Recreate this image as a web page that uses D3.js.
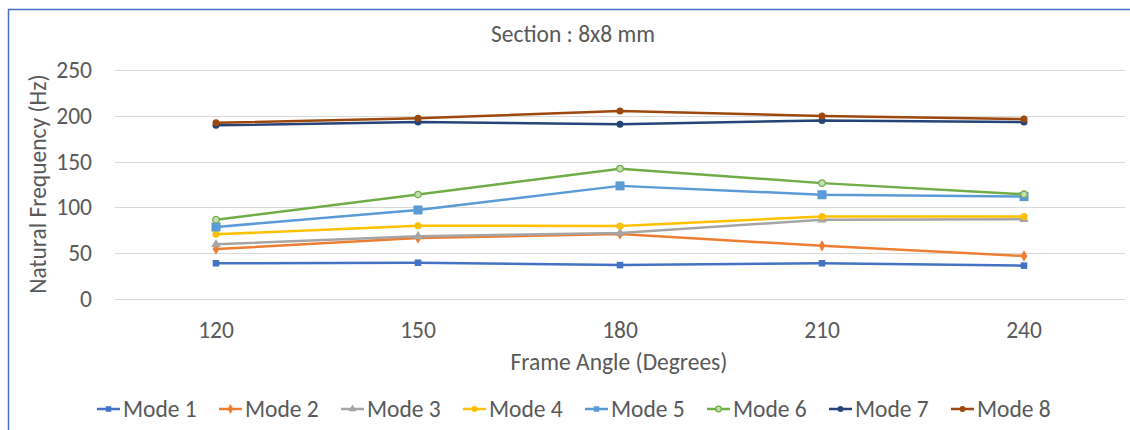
<!DOCTYPE html>
<html>
<head>
<meta charset="utf-8">
<script src="https://cdn.jsdelivr.net/npm/d3@7"></script>
<style>
  body { margin: 0; background: #fff; }
  svg { display: block; font-family: Carlito, Calibri, Lato, sans-serif; }
  .lbl { fill: #595959; }
</style>
</head>
<body>
<svg id="chart" width="1130" height="430"></svg>
<script>
// frame angle categories
const angles = ["120", "150", "180", "210", "240"];
const yTicks = [0, 50, 100, 150, 200, 250];

// natural frequency (Hz)
const mode1 = [39, 39.6, 37, 39, 36.4];
const mode2 = [54.5, 66.5, 71, 58, 47];
const mode3 = [59.7, 68.5, 72, 86.5, 87];
const mode4 = [70.6, 80, 79.8, 90, 90];
const mode5 = [78.6, 97.2, 123.5, 113.8, 111.8];
const mode6 = [86.6, 114, 142.3, 126.5, 114.3];
const mode7 = [189.6, 193.2, 190.7, 195, 193.2];
const mode8 = [192.3, 197.2, 205.2, 199.8, 196.5];

const modeNames = ["Mode 1", "Mode 2", "Mode 3", "Mode 4", "Mode 5", "Mode 6", "Mode 7", "Mode 8"];
const modeColors = ["#4472C4", "#ED7D31", "#A5A5A5", "#FFC000", "#5B9BD5", "#70AD47", "#264478", "#9E480E"];
const modeMarkers = ["square", "diamond", "triangle", "circle", "bigsquare", "hollow", "circle", "circle"];

const FS = 23.5;

const series = [mode1, mode2, mode3, mode4, mode5, mode6, mode7, mode8].map((vals, i) => ({
    name: modeNames[i],
    color: modeColors[i],
    marker: modeMarkers[i],
    values: vals,
}));

const svg = d3.select("#chart");

svg.append("rect").attr("width", 1130).attr("height", 430).attr("fill", "#fff");

// chart area border (only top and left show in the crop)
svg.append("path")
    .attr("d", "M8.5,430 V9.5 H1130")
    .attr("fill", "none")
    .attr("stroke", "#4472C4")
    .attr("stroke-width", 1.5);

const xScale = d3.scaleBand().domain(angles).range([115, 1125]).padding(0);
const xPos = (cat) => xScale(cat) + xScale.bandwidth() / 2;
const yScale = d3.scaleLinear().domain([0, 250]).range([299, 70]);

// gridlines
svg.append("g")
    .selectAll("line")
    .data(yTicks)
    .enter()
    .append("line")
    .attr("x1", 115)
    .attr("x2", 1125)
    .attr("y1", (d) => Math.round(yScale(d)) + 0.5)
    .attr("y2", (d) => Math.round(yScale(d)) + 0.5)
    .attr("stroke", "#d9d9d9")
    .attr("stroke-width", 1);

// y axis labels
const yAxis = d3.axisLeft(yScale).tickValues(yTicks).tickSize(0).tickPadding(0);
const yg = svg.append("g").attr("transform", "translate(92,0)").call(yAxis);
yg.attr("font-family", null).attr("font-size", null);
yg.select(".domain").remove();
yg.selectAll("text").attr("class", "lbl").attr("font-size", FS);

// x axis labels
const xAxis = d3.axisBottom(xScale).tickSize(0).tickPadding(0);
const xg = svg.append("g").attr("transform", "translate(0,320)").call(xAxis);
xg.attr("font-family", null).attr("font-size", null);
xg.select(".domain").remove();
xg.selectAll("text").attr("class", "lbl").attr("font-size", FS).attr("dy", "0.35em").attr("y", 10);

// titles
svg.append("text")
    .attr("class", "lbl")
    .attr("x", 573)
    .attr("y", 34)
    .attr("text-anchor", "middle")
    .attr("dominant-baseline", "central")
    .attr("font-size", FS)
    .text("Section : 8x8 mm");

svg.append("text")
    .attr("class", "lbl")
    .attr("transform", "translate(38,184) rotate(-90)")
    .attr("text-anchor", "middle")
    .attr("dominant-baseline", "central")
    .attr("font-size", FS)
    .text("Natural Frequency (Hz)");

svg.append("text")
    .attr("class", "lbl")
    .attr("x", 619)
    .attr("y", 362)
    .attr("text-anchor", "middle")
    .attr("dominant-baseline", "central")
    .attr("font-size", FS)
    .text("Frame Angle (Degrees)");

function drawMarker(sel, kind, color, scale) {
    const k = scale || 1;
    if (kind === "square" || kind === "bigsquare") {
        const s = (kind === "bigsquare" ? 9 : 6.5) * k;
        sel.append("rect").attr("x", -s / 2).attr("y", -s / 2).attr("width", s).attr("height", s).attr("fill", color);
    } else if (kind === "diamond") {
        sel.append("path").attr("d", d3.symbol(d3.symbolDiamond, 38 * k * k)()).attr("fill", color);
    } else if (kind === "triangle") {
        sel.append("path").attr("d", d3.symbol(d3.symbolTriangle, 38 * k * k)()).attr("fill", color);
    } else if (kind === "hollow") {
        sel.append("circle").attr("r", 3.3 * k).attr("fill", "#c5dcb4").attr("stroke", color).attr("stroke-width", 1.3);
    } else {
        sel.append("circle").attr("r", 3.5 * k).attr("fill", color);
    }
}

const line = d3.line()
    .x((d, i) => xPos(angles[i]))
    .y((d) => yScale(d));

const sg = svg.append("g")
    .selectAll("g")
    .data(series)
    .enter()
    .append("g");

sg.append("path")
    .attr("d", (s) => line(s.values))
    .attr("fill", "none")
    .attr("stroke", (s) => s.color)
    .attr("stroke-width", 2.5)
    .attr("stroke-linejoin", "round");

sg.each(function (s) {
    const g = d3.select(this);
    s.values.forEach((v, i) => {
        const m = g.append("g").attr("transform", `translate(${xPos(angles[i])},${yScale(v)})`);
        drawMarker(m, s.marker, s.color, 1);
    });
});

// legend
const legend = svg.append("g")
    .selectAll("g")
    .data(series)
    .enter()
    .append("g")
    .attr("transform", (s, i) => `translate(${97 + i * 122},409)`);

legend.append("line")
    .attr("x1", 0)
    .attr("x2", 23)
    .attr("stroke", (s) => s.color)
    .attr("stroke-width", 2.5);

legend.each(function (s) {
    const m = d3.select(this).append("g").attr("transform", "translate(11.5,0)");
    drawMarker(m, s.marker === "bigsquare" ? "square" : s.marker, s.color, 0.85);
});

legend.append("text")
    .attr("class", "lbl")
    .attr("x", 26)
    .attr("dominant-baseline", "central")
    .attr("font-size", FS)
    .text((s) => s.name);
</script>
</body>
</html>
